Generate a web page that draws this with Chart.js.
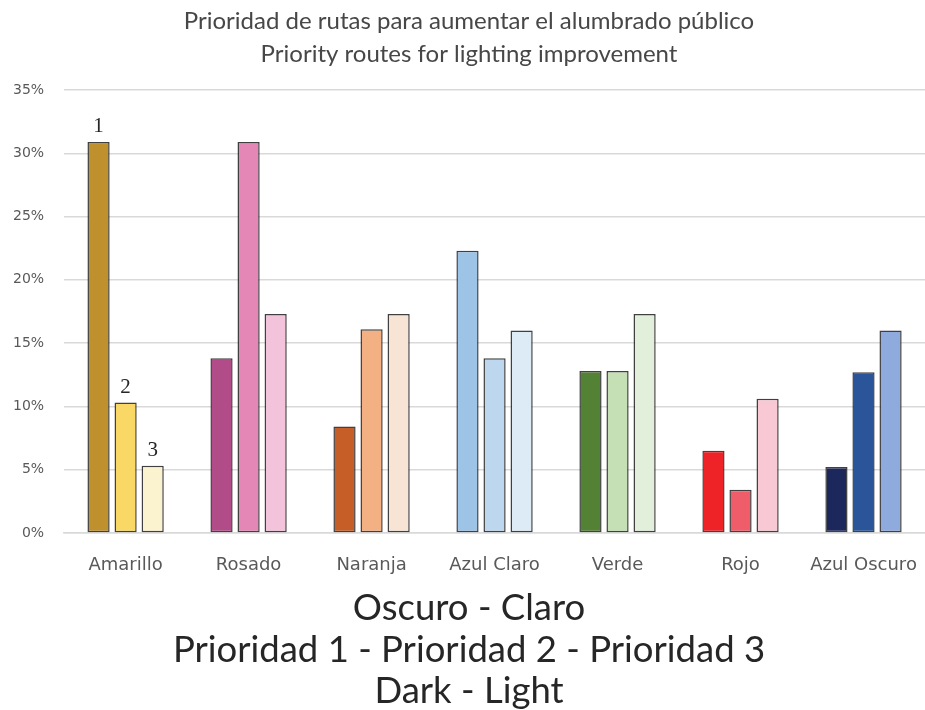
<!DOCTYPE html>
<html>
<head>
<meta charset="utf-8">
<script src="https://cdn.jsdelivr.net/npm/chart.js@4"></script>
<style>
  html, body { margin: 0; padding: 0; background: #fff; overflow: hidden; }
  #wrap { width: 925px; height: 710px; position: relative; }
</style>
</head>
<body>
<div id="wrap"><canvas id="chart"></canvas></div>
<script>
// Data
const routes = ["Amarillo", "Rosado", "Naranja", "Azul Claro", "Verde", "Rojo", "Azul Oscuro"];
const priority1 = [30.9, 13.8, 8.4, 22.3, 12.8, 6.5, 5.2];
const priority2 = [10.3, 30.9, 16.1, 13.8, 12.8, 3.4, 12.7];
const priority3 = [5.3, 17.3, 17.3, 16.0, 17.3, 10.6, 16.0];
const yTicks = [0, 5, 10, 15, 20, 25, 30, 35];
const rankLabels = ["1", "2", "3"];

// Colors per route, dark -> light
const darkColors  = ["#BE902E", "#B24C89", "#C55E27", "#9DC3E6", "#548235", "#EE2328", "#1C275C"];
const midColors   = ["#F9D866", "#E487B6", "#F3B183", "#BDD7EE", "#C5E0B4", "#F05D6A", "#2A5699"];
const lightColors = ["#FBF2CF", "#F3C2DB", "#F8E4D5", "#DDEBF7", "#E2EFDA", "#F8C8D4", "#8FAADC"];

// Draws 1 / 2 / 3 above the Amarillo bars
const rankPlugin = {
    id: "rankLabels",
    afterDatasetsDraw(chart){
        const ctx = chart.ctx;
        ctx.save();
        ctx.font = "21px 'Liberation Serif', serif";
        ctx.fillStyle = "#262626";
        ctx.textAlign = "center";
        ctx.textBaseline = "bottom";
        rankLabels.forEach((txt, i) => {
            const bar = chart.getDatasetMeta(i).data[0];
            ctx.fillText(txt, bar.x, bar.y - 5);
        });
        ctx.restore();
    }
};

function makeSet(label, data, colors){
    return {
        label: label,
        data: data,
        backgroundColor: colors,
        borderColor: "rgba(30,30,30,0.85)",
        borderWidth: 1.5,
        borderSkipped: false,
        categoryPercentage: 0.66,
        barPercentage: 0.82
    };
}

const TICK_PAD_X = 22;
const TICK_PAD_Y = 20;

new Chart(document.getElementById("chart"), {
    type: "bar",
    data: {
        labels: routes,
        datasets: [
            makeSet("Prioridad 1", priority1, darkColors),
            makeSet("Prioridad 2", priority2, midColors),
            makeSet("Prioridad 3", priority3, lightColors)
        ]
    },
    options: {
        responsive: true,
        maintainAspectRatio: false,
        animation: false,
        layout: { autoPadding: false, padding: { left: 13, right: 0, top: 0, bottom: 0 } },
        plugins: {
            legend: { display: false },
            tooltip: { enabled: false },
            title: {
                display: true,
                text: ["Prioridad de rutas para aumentar el alumbrado público", "Priority routes for lighting improvement"],
                color: "#474747",
                font: { family: "Lato, sans-serif", size: 24, weight: "normal", lineHeight: 1.375 },
                padding: { top: 5, bottom: 19 }
            },
            subtitle: {
                display: true,
                position: "bottom",
                text: ["Oscuro - Claro", "Prioridad 1 - Prioridad 2 - Prioridad 3", "Dark - Light"],
                color: "#262626",
                font: { family: "Lato, sans-serif", size: 36.5, weight: "normal", lineHeight: 1.137 },
                padding: { top: 11, bottom: -2 }
            }
        },
        scales: {
            x: {
                grid: { display: false, drawTicks: false },
                border: { color: "#d9d9d9", width: 1.5 },
                ticks: { color: "#595959", font: { family: "'DejaVu Sans', sans-serif", size: 18 }, padding: TICK_PAD_X },
                // tick padding is counted twice in the axis size; drop the extra
                // and let the plot run to the right edge like the original
                afterFit(scale){
                    scale.height -= TICK_PAD_X;
                    scale.paddingLeft = 0;
                    scale.paddingRight = 0;
                }
            },
            y: {
                min: 0,
                max: 35,
                afterBuildTicks(axis){ axis.ticks = yTicks.map(v => ({ value: v })); },
                grid: { color: "#d9d9d9", lineWidth: 1.5, drawTicks: false },
                border: { display: false },
                ticks: {
                    color: "#595959",
                    font: { family: "'DejaVu Sans', sans-serif", size: 14 },
                    padding: TICK_PAD_Y,
                    callback: v => v + "%"
                },
                afterFit(scale){ scale.width -= TICK_PAD_Y; }
            }
        }
    },
    plugins: [rankPlugin]
});
</script>
</body>
</html>
